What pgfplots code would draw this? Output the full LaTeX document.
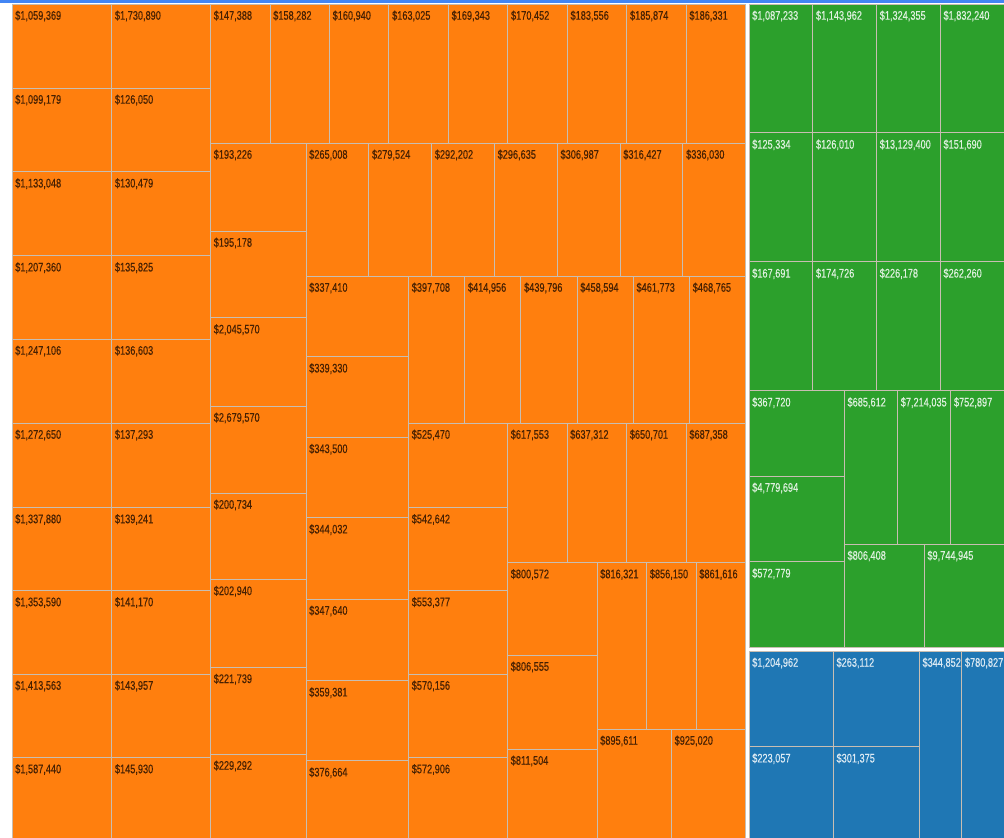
\documentclass[border=0pt]{standalone}
\usepackage{fontspec}
\setmainfont{Liberation Sans}[FakeStretch=0.74, FakeBold=0.25]
\usepackage{pgfplots}
\pgfplotsset{compat=1.18}
\definecolor{cO}{RGB}{255,127,14}
\definecolor{cG}{RGB}{44,160,44}
\definecolor{cB}{RGB}{31,119,180}
\definecolor{tO}{RGB}{70,32,2}
\definecolor{tG}{RGB}{223,241,223}
\definecolor{tB}{RGB}{221,235,244}
\definecolor{bd}{RGB}{200,190,178}
\definecolor{topblue}{RGB}{66,133,244}
% #1 x0  #2 y0(top)  #3 x1  #4 y1(bottom)  #5 label  #6 fill  #7 text colour
\newcommand\R[7]{%
  \addplot[fill=#6, draw=bd, line width=0.7pt] coordinates {(#1,#2) (#3,#2) (#3,#4) (#1,#4)} --cycle;
  \addplot[draw=none, mark=none, nodes near coords, point meta=explicit symbolic,
    nodes near coords style={anchor=base west, inner sep=0pt, xshift=2.25pt, yshift=-11.8pt,
      text=#7, font=\fontsize{9.3}{11}\selectfont}] coordinates {(#1,#2) [#5]};
}
\newcommand\RO[5]{\R{#1}{#2}{#3}{#4}{#5}{cO}{tO}}
\newcommand\RG[5]{\R{#1}{#2}{#3}{#4}{#5}{cG}{tG}}
\newcommand\RB[5]{\R{#1}{#2}{#3}{#4}{#5}{cB}{tB}}
\begin{document}
\begin{tikzpicture}
\begin{axis}[width=753pt, height=628.5pt, scale only axis,
  xmin=0, xmax=1004, ymin=0, ymax=838, y dir=reverse,
  hide axis, clip=false]
\addplot[fill=white, draw=none] coordinates {(0,0) (1004,0) (1004,838) (0,838)} --cycle;
\addplot[fill=topblue, draw=none] coordinates {(0,0) (1004,0) (1004,3.5) (0,3.5)} --cycle;
% ---- orange: column A
\RO{12}{4}{111.7}{88}{\$1,059,369}
\RO{12}{88}{111.7}{171.7}{\$1,099,179}
\RO{12}{171.7}{111.7}{255.7}{\$1,133,048}
\RO{12}{255.7}{111.7}{339}{\$1,207,360}
\RO{12}{339}{111.7}{423}{\$1,247,106}
\RO{12}{423}{111.7}{507.5}{\$1,272,650}
\RO{12}{507.5}{111.7}{590.5}{\$1,337,880}
\RO{12}{590.5}{111.7}{674}{\$1,353,590}
\RO{12}{674}{111.7}{757.5}{\$1,413,563}
\RO{12}{757.5}{111.7}{838}{\$1,587,440}
% ---- orange: column B
\RO{111.7}{4}{210.5}{88}{\$1,730,890}
\RO{111.7}{88}{210.5}{171.7}{\$126,050}
\RO{111.7}{171.7}{210.5}{255.7}{\$130,479}
\RO{111.7}{255.7}{210.5}{339}{\$135,825}
\RO{111.7}{339}{210.5}{423}{\$136,603}
\RO{111.7}{423}{210.5}{507.5}{\$137,293}
\RO{111.7}{507.5}{210.5}{590.5}{\$139,241}
\RO{111.7}{590.5}{210.5}{674}{\$141,170}
\RO{111.7}{674}{210.5}{757.5}{\$143,957}
\RO{111.7}{757.5}{210.5}{838}{\$145,930}
% ---- orange: top row
\RO{210.5}{4}{270}{143}{\$147,388}
\RO{270}{4}{329.4}{143}{\$158,282}
\RO{329.4}{4}{388.9}{143}{\$160,940}
\RO{388.9}{4}{448.4}{143}{\$163,025}
\RO{448.4}{4}{507.8}{143}{\$169,343}
\RO{507.8}{4}{567.3}{143}{\$170,452}
\RO{567.3}{4}{626.8}{143}{\$183,556}
\RO{626.8}{4}{686.2}{143}{\$185,874}
\RO{686.2}{4}{745.7}{143}{\$186,331}
% ---- orange: column 3
\RO{210.5}{143}{306}{231}{\$193,226}
\RO{210.5}{231}{306}{317.7}{\$195,178}
\RO{210.5}{317.7}{306}{406}{\$2,045,570}
\RO{210.5}{406}{306}{493}{\$2,679,570}
\RO{210.5}{493}{306}{579.3}{\$200,734}
\RO{210.5}{579.3}{306}{667.3}{\$202,940}
\RO{210.5}{667.3}{306}{754}{\$221,739}
\RO{210.5}{754}{306}{838}{\$229,292}
% ---- orange: row 2
\RO{306}{143}{368.8}{276}{\$265,008}
\RO{368.8}{143}{431.6}{276}{\$279,524}
\RO{431.6}{143}{494.4}{276}{\$292,202}
\RO{494.4}{143}{557.3}{276}{\$296,635}
\RO{557.3}{143}{620.1}{276}{\$306,987}
\RO{620.1}{143}{682.9}{276}{\$316,427}
\RO{682.9}{143}{745.7}{276}{\$336,030}
% ---- orange: column 4
\RO{306}{276}{408.5}{356.7}{\$337,410}
\RO{306}{356.7}{408.5}{437.3}{\$339,330}
\RO{306}{437.3}{408.5}{517.7}{\$343,500}
\RO{306}{517.7}{408.5}{599}{\$344,032}
\RO{306}{599}{408.5}{680.7}{\$347,640}
\RO{306}{680.7}{408.5}{760.7}{\$359,381}
\RO{306}{760.7}{408.5}{838}{\$376,664}
% ---- orange: row 3
\RO{408.5}{276}{464.7}{423}{\$397,708}
\RO{464.7}{276}{520.9}{423}{\$414,956}
\RO{520.9}{276}{577.1}{423}{\$439,796}
\RO{577.1}{276}{633.3}{423}{\$458,594}
\RO{633.3}{276}{689.5}{423}{\$461,773}
\RO{689.5}{276}{745.7}{423}{\$468,765}
% ---- orange: column 5
\RO{408.5}{423}{507.5}{507.5}{\$525,470}
\RO{408.5}{507.5}{507.5}{590.5}{\$542,642}
\RO{408.5}{590.5}{507.5}{674}{\$553,377}
\RO{408.5}{674}{507.5}{757.5}{\$570,156}
\RO{408.5}{757.5}{507.5}{838}{\$572,906}
% ---- orange: row 4
\RO{507.5}{423}{567}{562.5}{\$617,553}
\RO{567}{423}{626.6}{562.5}{\$637,312}
\RO{626.6}{423}{686.2}{562.5}{\$650,701}
\RO{686.2}{423}{745.7}{562.5}{\$687,358}
% ---- orange: bottom right
\RO{507.5}{562.5}{597}{655}{\$800,572}
\RO{507.5}{655}{597}{749}{\$806,555}
\RO{507.5}{749}{597}{838}{\$811,504}
\RO{597}{562.5}{646.6}{729}{\$816,321}
\RO{646.6}{562.5}{696.1}{729}{\$856,150}
\RO{696.1}{562.5}{745.7}{729}{\$861,616}
\RO{597}{729}{671.4}{838}{\$895,611}
\RO{671.4}{729}{745.7}{838}{\$925,020}
% ---- green
\RG{749}{4}{812.75}{132.9}{\$1,087,233}
\RG{812.75}{4}{876.5}{132.9}{\$1,143,962}
\RG{876.5}{4}{940.25}{132.9}{\$1,324,355}
\RG{940.25}{4}{1004}{132.9}{\$1,832,240}
\RG{749}{132.9}{812.75}{261.8}{\$125,334}
\RG{812.75}{132.9}{876.5}{261.8}{\$126,010}
\RG{876.5}{132.9}{940.25}{261.8}{\$13,129,400}
\RG{940.25}{132.9}{1004}{261.8}{\$151,690}
\RG{749}{261.8}{812.75}{390.7}{\$167,691}
\RG{812.75}{261.8}{876.5}{390.7}{\$174,726}
\RG{876.5}{261.8}{940.25}{390.7}{\$226,178}
\RG{940.25}{261.8}{1004}{390.7}{\$262,260}
\RG{749}{390.7}{844.3}{476}{\$367,720}
\RG{749}{476}{844.3}{561.7}{\$4,779,694}
\RG{749}{561.7}{844.3}{647}{\$572,779}
\RG{844.3}{390.7}{897.5}{544}{\$685,612}
\RG{897.5}{390.7}{950.7}{544}{\$7,214,035}
\RG{950.7}{390.7}{1004}{544}{\$752,897}
\RG{844.3}{544}{924.2}{647}{\$806,408}
\RG{924.2}{544}{1004}{647}{\$9,744,945}
% ---- blue
\RB{749}{651}{833.3}{746.7}{\$1,204,962}
\RB{833.3}{651}{919.3}{746.7}{\$263,112}
\RB{749}{746.7}{833.3}{838}{\$223,057}
\RB{833.3}{746.7}{919.3}{838}{\$301,375}
\RB{919.3}{651}{961.7}{838}{\$344,852}
\RB{961.7}{651}{1004}{838}{\$780,827}
\end{axis}
\pgfresetboundingbox
\path[use as bounding box] (current axis.south west) rectangle (current axis.north east);
\end{tikzpicture}
\end{document}
